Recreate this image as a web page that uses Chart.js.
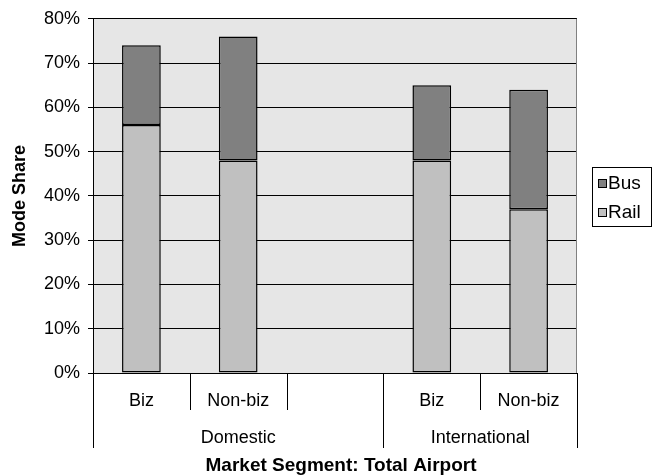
<!DOCTYPE html>
<html><head><meta charset="utf-8">
<script src="https://cdn.jsdelivr.net/npm/chart.js@4.4.0/dist/chart.umd.min.js"></script>
<style>html,body{margin:0;padding:0;background:#fff}canvas{display:block}</style>
</head><body>
<canvas id="c" width="653" height="476"></canvas>
<script>
const categories = ['Biz', 'Non-biz', '', 'Biz', 'Non-biz'];
const groupLabels = ['Domestic', 'International'];
const groupSpans = [3, 2];
const railValues = [56, 48, null, 48, 37];
const busValues = [18, 28, null, 17, 27];
const yTitle = 'Mode Share';
const xTitle = 'Market Segment: Total Airport';

const FAMILY = '"Liberation Sans", Arial, sans-serif';

const plotPlugin = {
  id: 'plot',
  beforeDraw(chart) {
    const { ctx, chartArea: a } = chart;
    ctx.save();
    ctx.fillStyle = '#e6e6e6';
    ctx.fillRect(a.left, a.top, a.right - a.left, a.bottom - a.top);
    ctx.restore();
  },
  afterDraw(chart) {
    const { ctx, chartArea: a, scales: { x } } = chart;
    ctx.save();
    ctx.lineWidth = 1;
    ctx.strokeStyle = '#808080';
    const rx = Math.round(a.right) - 0.5;
    ctx.beginPath(); ctx.moveTo(rx, a.top); ctx.lineTo(rx, a.bottom); ctx.stroke();

    const n = categories.length;
    const bounds = [];
    for (let i = 0; i <= n; i++) {
      if (i === 0) bounds.push(x.left);
      else if (i === n) bounds.push(x.right);
      else bounds.push((x.getPixelForValue(i - 1) + x.getPixelForValue(i)) / 2);
    }
    const groupEdges = [0];
    groupSpans.reduce((s, v) => { groupEdges.push(s + v); return s + v; }, 0);
    ctx.strokeStyle = '#000';
    bounds.forEach((bx, i) => {
      const px = Math.round(bx) + 0.5;
      const len = groupEdges.includes(i) ? 75 : 37;
      ctx.beginPath(); ctx.moveTo(px, a.bottom); ctx.lineTo(px, a.bottom + len); ctx.stroke();
    });
    ctx.fillStyle = '#000';
    ctx.font = '18px ' + FAMILY;
    ctx.textAlign = 'center';
    ctx.textBaseline = 'middle';
    categories.forEach((c, i) => { if (c) ctx.fillText(c, x.getPixelForValue(i), a.bottom + 28); });
    groupLabels.forEach((g, j) => {
      const cx = (bounds[groupEdges[j]] + bounds[groupEdges[j + 1]]) / 2;
      ctx.fillText(g, cx, a.bottom + 65);
    });
    ctx.font = 'bold 19px ' + FAMILY;
    ctx.fillText(xTitle, (a.left + a.right) / 2 + 6, a.bottom + 93);

    // legend
    const lx = 592, ly = 167, lw = 60, lh = 60;
    ctx.strokeStyle = '#000';
    ctx.strokeRect(lx + 0.5, ly + 0.5, lw - 1, lh - 1);
    ctx.font = '19px ' + FAMILY;
    ctx.textAlign = 'left';
    const ds = chart.data.datasets.slice().reverse();
    ds.forEach((d, i) => {
      const cy = ly + 16 + i * 29;
      ctx.fillStyle = d.backgroundColor;
      ctx.fillRect(lx + 6, cy - 4, 9, 9);
      ctx.strokeStyle = '#000';
      ctx.strokeRect(lx + 6.5, cy - 3.5, 8, 8);
      ctx.fillStyle = '#000';
      ctx.fillText(d.label, lx + 16, cy + 1);
    });
    ctx.restore();
  }
};

new Chart(document.getElementById('c'), {
  type: 'bar',
  data: {
    labels: categories,
    datasets: [
      { label: 'Rail', data: railValues, backgroundColor: '#c0c0c0', borderColor: '#000', borderWidth: 1.5, borderSkipped: false },
      { label: 'Bus', data: busValues, backgroundColor: '#808080', borderColor: '#000', borderWidth: 1.5, borderSkipped: false }
    ]
  },
  options: {
    responsive: false,
    animation: false,
    devicePixelRatio: 1,
    layout: { padding: { top: 18, right: 76, bottom: 0, left: 0 } },
    datasets: { bar: { categoryPercentage: 1, barPercentage: 0.4 } },
    plugins: { legend: { display: false }, tooltip: { enabled: false } },
    scales: {
      x: {
        stacked: true,
        grid: { display: false },
        border: { display: true, color: '#000' },
        ticks: { display: false },
        afterFit(s) { s.height = 103; }
      },
      y: {
        stacked: true,
        min: 0, max: 80,
        ticks: { stepSize: 10, callback: v => v + '%', color: '#000', font: { family: FAMILY, size: 18 }, padding: 8 },
        grid: { color: '#000', tickLength: 5, tickColor: '#000' },
        border: { color: '#000' },
        title: { display: true, text: yTitle, color: '#000', font: { family: FAMILY, size: 18, weight: 'bold' }, padding: { top: 9, bottom: 0 } },
        afterFit(s) { s.width = 93; }
      }
    }
  },
  plugins: [plotPlugin]
});
</script>
</body></html>
